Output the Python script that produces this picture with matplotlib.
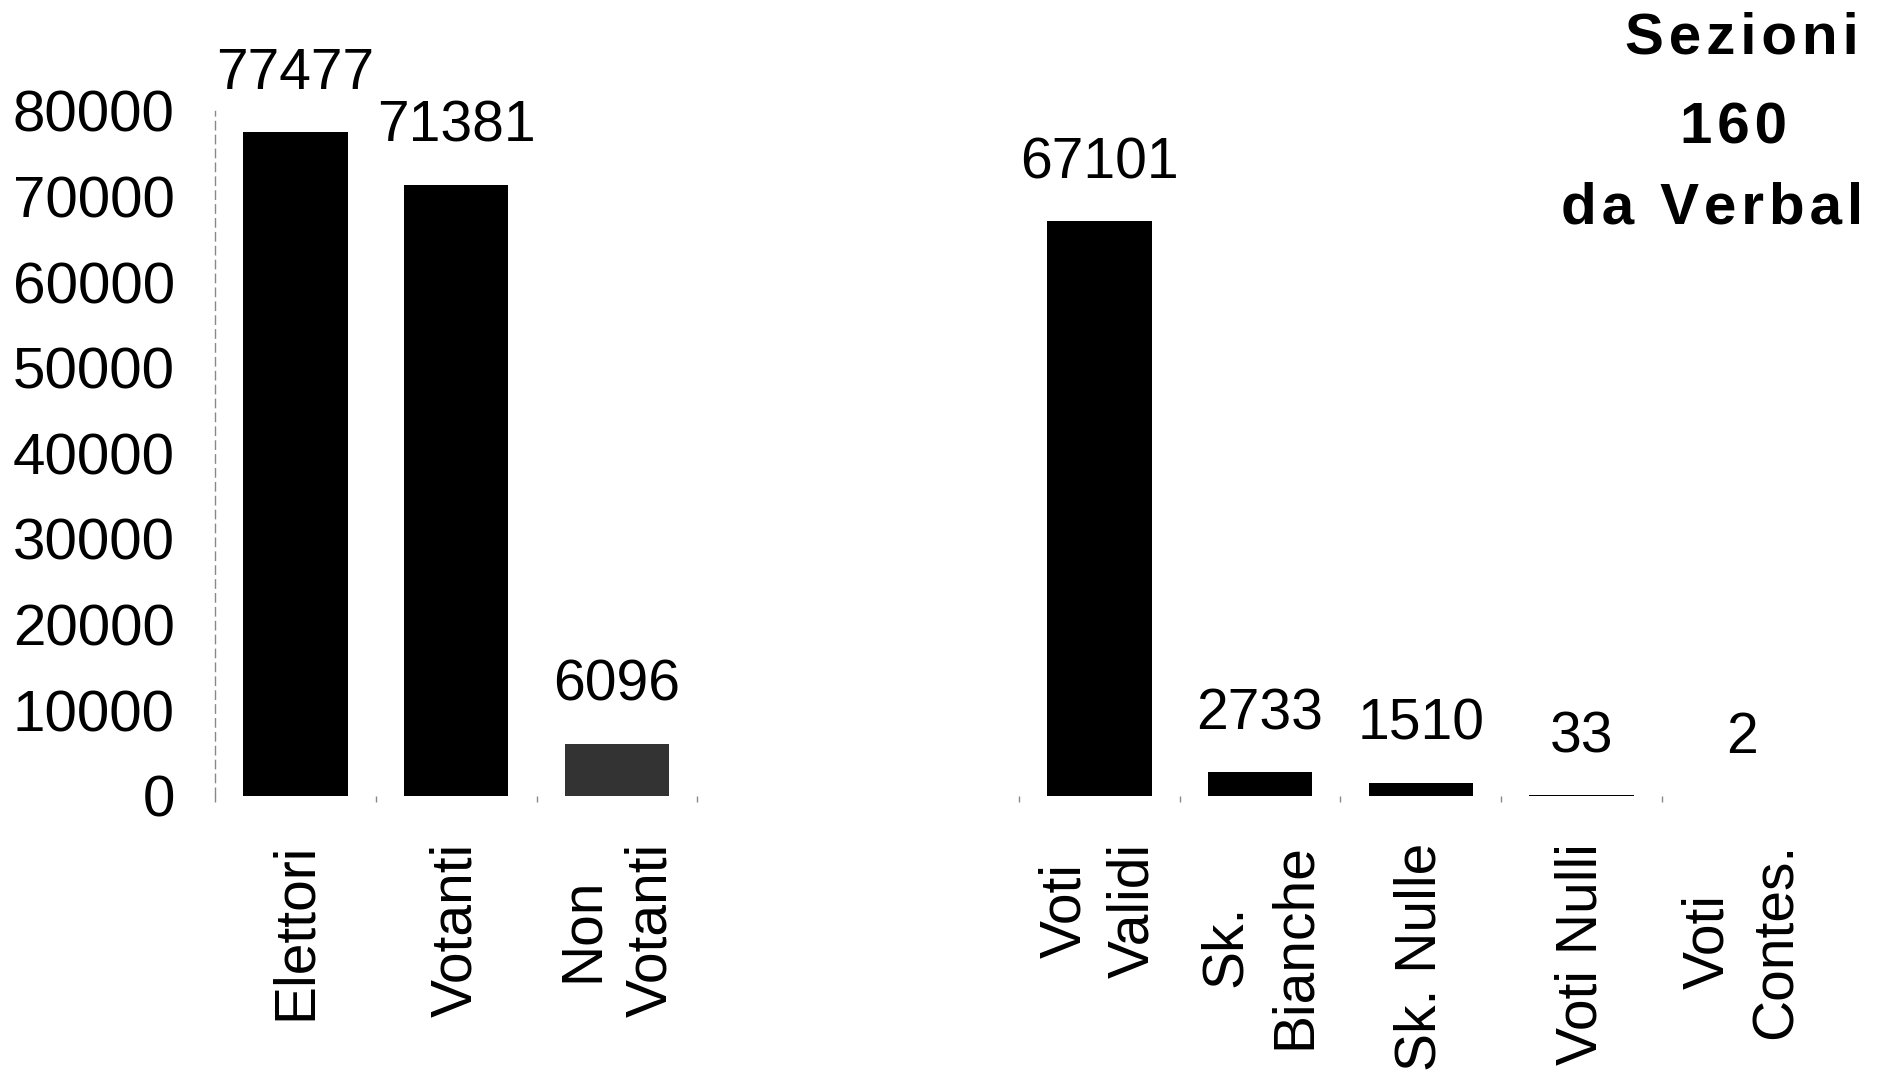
import matplotlib.pyplot as plt
import numpy as np

plt.rcParams['font.family'] = ['Liberation Sans', 'DejaVu Sans']

# left group: electorate
elettorato_labels = ['Elettori', 'Votanti', 'Non\nVotanti']
elettorato_values = [77477, 71381, 6096]

# right group: votes
voti_labels = ['Voti\nValidi', 'Sk.\nBianche', 'Sk. Nulle', 'Voti Nulli', 'Voti\nContes.']
voti_values = [67101, 2733, 1510, 33, 2]

y_ticks = [0, 10000, 20000, 30000, 40000, 50000, 60000, 70000, 80000]
header_lines = ['Sezioni', '160', 'da Verbal']

x_left = np.arange(len(elettorato_values))
x_right = np.arange(len(voti_values)) + len(elettorato_values) + 2

fig = plt.figure(figsize=(18.9, 10.87), dpi=100)
ax = fig.add_axes([0.1138, 0.268, 0.8506, 0.630])

ax.bar(x_left, elettorato_values, width=0.65, color=['black', 'black', '#333333'])
ax.bar(x_right, voti_values, width=0.65, color='black')

for x, v in zip(list(x_left) + list(x_right), elettorato_values + voti_values):
    ax.annotate(str(v), (x, v), xytext=(0, 31), textcoords='offset points',
                ha='center', va='baseline', fontsize=41, annotation_clip=False)

ax.set_xlim(-0.5, x_right[-1] + 0.5)
ax.set_ylim(0, 80000)

ax.set_xticks(list(x_left) + list(x_right))
ax.set_xticklabels(elettorato_labels + voti_labels, rotation=90, fontsize=41,
                   linespacing=1.35, multialignment='center')
ax.tick_params(axis='x', length=0, pad=34)

bounds = list(np.arange(-0.5, x_left[-1] + 1)) + list(np.arange(x_right[0] - 0.5, x_right[-1]))
ax.set_xticks(bounds, minor=True)
ax.tick_params(axis='x', which='minor', length=4, width=1, color='#888888')

ax.set_yticks(y_ticks)
ax.set_yticklabels([str(t) for t in y_ticks], fontsize=42)
ax.tick_params(axis='y', length=0, pad=29)

for s in ['top', 'right', 'bottom']:
    ax.spines[s].set_visible(False)
ax.spines['left'].set_linestyle((0, (6, 4)))
ax.spines['left'].set_color('#888888')
ax.spines['left'].set_linewidth(1)

# header block with widened letter spacing
header_x = [1742 / 1890, 1734 / 1890, 1712 / 1890]
header_y = [1 - 38 / 1087, 1 - 128 / 1087, 1 - 208 / 1087]
for t, hx, hy in zip(header_lines, header_x, header_y):
    spaced = '\u200a'.join(t)
    fig.text(hx, hy, spaced, ha='center', va='center', fontsize=42, fontweight='bold')

plt.savefig('out.png', dpi=100)
